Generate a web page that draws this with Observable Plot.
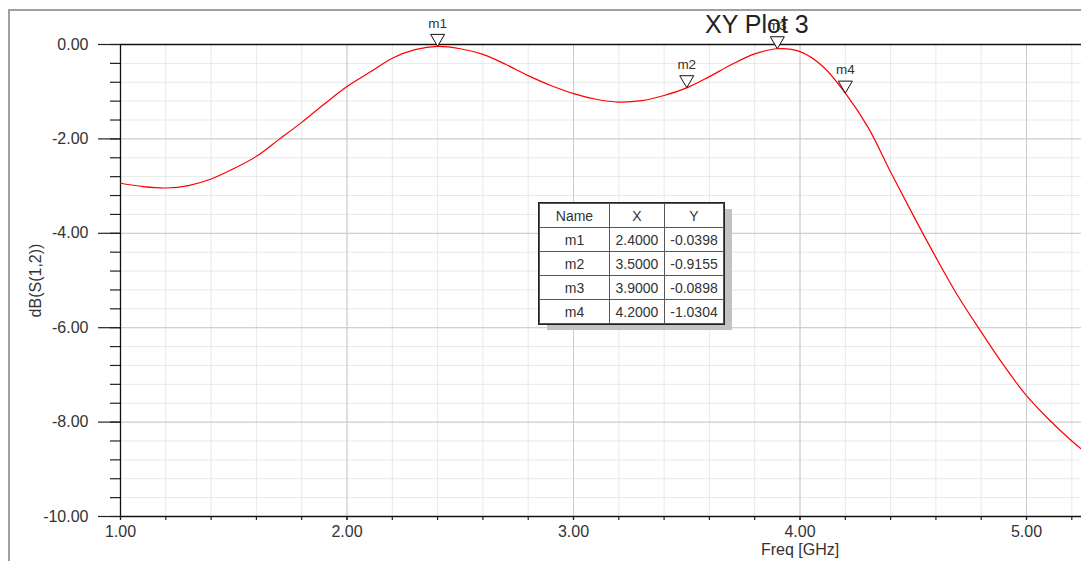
<!DOCTYPE html>
<html>
<head>
<meta charset="utf-8">
<script src="https://cdn.jsdelivr.net/npm/d3@7"></script>
<script src="https://cdn.jsdelivr.net/npm/@observablehq/plot@0.6"></script>
<style>
  html, body { margin: 0; padding: 0; background: #fff; overflow: hidden; width: 1081px; height: 561px; }
  body { position: relative; font-family: "Liberation Sans", Arial, sans-serif; }
  #frame { position: absolute; left: 8px; top: 9px; width: 2000px; height: 2000px;
           border-left: 2px solid #a0a0a0; border-top: 2px solid #a0a0a0; }
  #chart { position: absolute; left: 0; top: 0; }
  #title { position: absolute; left: 705px; top: 12px; font-size: 25px; line-height: 25px; color: #222; white-space: nowrap; }
  #table { position: absolute; left: 539px; top: 203px; border-collapse: collapse; table-layout: fixed;
           box-shadow: 8px 6px 0 #c2c2c2; background: #fff; font-size: 14px; color: #333; outline: 1px solid #222; }
  #table td { border: 1px solid #555; height: 23px; padding: 0; text-align: center; overflow: hidden; white-space: nowrap; }
</style>
</head>
<body>
<div id="frame"></div>
<div id="chart"></div>
<div id="title">XY Plot 3</div>
<table id="table"></table>
<script>
// Curve data
const freq = [1.0, 1.1, 1.2, 1.3, 1.4, 1.5, 1.6, 1.7, 1.8, 1.9,
              2.0, 2.1, 2.2, 2.3, 2.4, 2.5, 2.6, 2.7, 2.8, 2.9,
              3.0, 3.1, 3.2, 3.3, 3.4, 3.5, 3.6, 3.7, 3.8, 3.9,
              4.0, 4.1, 4.2, 4.3, 4.4, 4.5, 4.6, 4.7, 4.8, 4.9,
              5.0, 5.1, 5.2, 5.25];
const dB = [-2.94, -3.01, -3.04, -2.99, -2.85, -2.63, -2.37, -2.01, -1.65, -1.26,
            -0.89, -0.59, -0.29, -0.11, -0.04, -0.09, -0.21, -0.42, -0.66, -0.87,
            -1.04, -1.16, -1.22, -1.19, -1.08, -0.92, -0.68, -0.42, -0.20, -0.09,
            -0.15, -0.46, -1.03, -1.75, -2.70, -3.62, -4.51, -5.35, -6.09, -6.80,
            -7.44, -7.95, -8.40, -8.60];

// Markers
const markerNames = ["m1", "m2", "m3", "m4"];
const markerX = [2.4, 3.5, 3.9, 4.2];
const markerY = [-0.0398, -0.9155, -0.0898, -1.0304];

// Ticks
const xMajor = [1, 2, 3, 4, 5];
const yMajor = [0, -2, -4, -6, -8, -10];
const xMinor = d3.range(1, 5.25, 0.2).map(v => +v.toFixed(2));
const yMinor = d3.range(0, -10.01, -0.4).map(v => +v.toFixed(2));

const xLabel = "Freq [GHz]";
const yLabel = "dB(S(1,2))";

const curve = freq.map((f, i) => ({f, v: dB[i]}));
const markers = markerNames.map((n, i) => ({name: n, x: markerX[i], y: markerY[i]}));

const triangleDown = {
  draw(ctx) {
    ctx.moveTo(0, 0);
    ctx.lineTo(-7, -12);
    ctx.lineTo(7, -12);
    ctx.closePath();
  }
};

const chart = Plot.plot({
  width: 1081,
  height: 561,
  marginLeft: 120,
  marginTop: 44,
  marginBottom: 45,
  marginRight: 0,
  x: {domain: [1, 5.2428], axis: null},
  y: {domain: [-10, 0], axis: null},
  style: {fontFamily: "'Liberation Sans', Arial, sans-serif", fontSize: "16px", background: "transparent", overflow: "visible", color: "#333"},
  marks: [
    Plot.gridX(xMinor, {stroke: "#e8e8e8", strokeOpacity: 1}),
    Plot.gridY(yMinor, {stroke: "#e8e8e8", strokeOpacity: 1}),
    Plot.gridX(xMajor, {stroke: "#cacaca", strokeOpacity: 1}),
    Plot.gridY(yMajor, {stroke: "#cacaca", strokeOpacity: 1}),
    Plot.axisY(yMinor, {anchor: "left", tickSize: 10, tickFormat: () => "", label: null, stroke: "#222", strokeWidth: 1.2}),
    Plot.axisY(yMajor, {anchor: "left", tickSize: 22, tickPadding: 10, tickFormat: d => d.toFixed(2), label: null,
                        fontSize: 16, fill: "#333", stroke: "#222", strokeWidth: 1.2}),
    Plot.axisX(xMinor, {anchor: "bottom", tickSize: 4, tickFormat: () => "", label: null, stroke: "#222", strokeWidth: 1.2}),
    Plot.axisX(xMajor, {anchor: "bottom", tickSize: 4, tickPadding: 5, tickFormat: d => d.toFixed(2), label: null,
                        fontSize: 16, fill: "#333", stroke: "#222", strokeWidth: 1.2}),
    Plot.ruleY([0, -10], {stroke: "#111", strokeWidth: 1.3}),
    Plot.ruleX([1], {stroke: "#111", strokeWidth: 1.3}),
    Plot.line(curve, {x: "f", y: "v", stroke: "#ff0000", strokeWidth: 1.2, curve: "catmull-rom"}),
    Plot.dot(markers, {x: "x", y: "y", symbol: triangleDown, r: 5, fill: "white", stroke: "#111", strokeWidth: 1}),
    Plot.text(markers, {x: "x", y: "y", text: "name", dy: -23, fontSize: 13.5, fill: "#333"}),
    Plot.text([xLabel], {x: () => 4, frameAnchor: "bottom", lineAnchor: "middle", text: d => d, dy: 33, fontSize: 16, fill: "#333"}),
    Plot.text([yLabel], {frameAnchor: "left", textAnchor: "middle", lineAnchor: "middle", text: d => d, dx: -85, rotate: -90, fontSize: 16, fill: "#333"})
  ]
});
document.getElementById("chart").appendChild(chart);

// Marker table
const table = document.getElementById("table");
const colW = [70, 55, 59];
const header = ["Name", "X", "Y"];
const rows = [header].concat(markers.map(m => [m.name, m.x.toFixed(4), m.y.toFixed(4)]));
rows.forEach(r => {
  const tr = document.createElement("tr");
  r.forEach((c, j) => {
    const td = document.createElement("td");
    td.textContent = c;
    td.style.width = (colW[j] - 1) + "px";
    tr.appendChild(td);
  });
  table.appendChild(tr);
});
</script>
</body>
</html>
